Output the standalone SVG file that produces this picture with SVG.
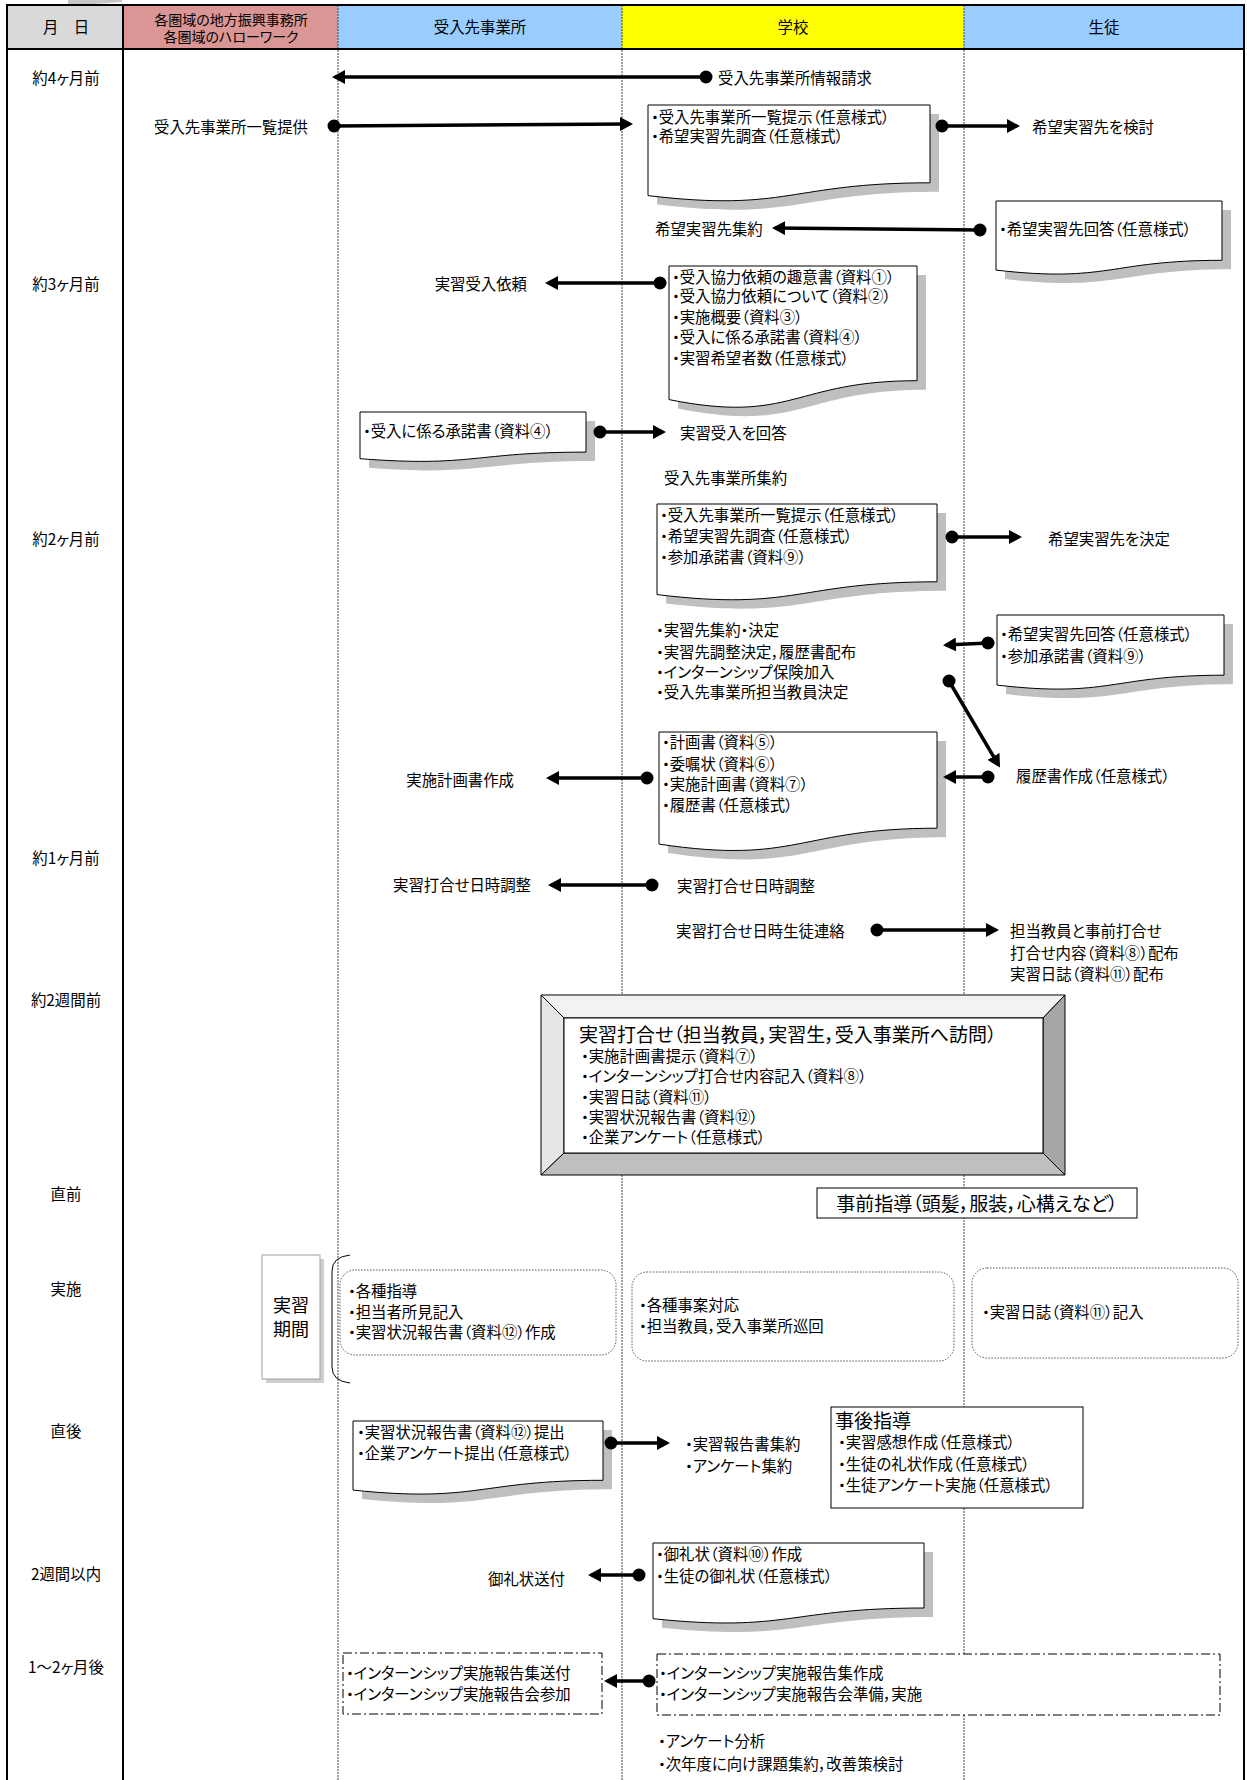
<svg xmlns="http://www.w3.org/2000/svg" xmlns:xlink="http://www.w3.org/1999/xlink" width="1247" height="1780" viewBox="0 0 1247 1780">
<style>
.t{font-family:"Noto Sans CJK JP","Noto Sans",sans-serif;font-size:15.4px;dominant-baseline:central;font-feature-settings:"palt";fill:#000}
.c{text-anchor:middle}
.e{text-anchor:end}
.big{font-size:19px}
.mid{font-size:18px}
.sm{font-size:14px}
.doc{fill:#fff;stroke:#000;stroke-width:1}
.sh{fill:#BFBFBF;stroke:none}
.sep{stroke:#444;stroke-width:1;stroke-dasharray:2 1;fill:none}
.frame{stroke:#000;stroke-width:2;fill:none}
.conn{stroke:#000;stroke-width:3.5;fill:none;marker-start:url(#dot);marker-end:url(#arr)}
.dots{fill:#fff;stroke:#555;stroke-width:1;stroke-dasharray:1.5 1.5}
.dd{fill:#fff;stroke:#000;stroke-width:1;stroke-dasharray:9 3 2 3}
.box{fill:#fff;stroke:#000;stroke-width:1}
</style>
<defs>
<marker id="arr" viewBox="0 0 13 14" refX="10" refY="7" markerWidth="13" markerHeight="14" markerUnits="userSpaceOnUse" orient="auto"><path d="M0,0 L13,7 L0,14 Z" fill="#000"/></marker>
<marker id="dot" viewBox="0 0 14 14" refX="7" refY="7" markerWidth="14" markerHeight="14" markerUnits="userSpaceOnUse"><circle cx="7" cy="7" r="6.5" fill="#000"/></marker>
<path id="p1" d="M648,105 H930 V182.8 C789,182.8 789,212.4 648,195.6 Z"/>
<path id="p2" d="M996,201 H1222 V260.3 C1109,260.3 1109,283 996,270.1 Z"/>
<path id="p3" d="M669,266 H917 V380.7 C793,380.7 793,424.4 669,399.6 Z"/>
<path id="p4" d="M360,412 H586 V452.1 C473,452.1 473,467.4 360,458.7 Z"/>
<path id="p5" d="M657,504 H937 V581.8 C797,581.8 797,611.4 657,594.6 Z"/>
<path id="p6" d="M997,615 H1224 V675.2 C1110.5,675.2 1110.5,698.1 997,685.1 Z"/>
<path id="p7" d="M659,732 H937 V828.2 C798,828.2 798,864.9 659,844.1 Z"/>
<path id="p8" d="M353,1421 H603 V1480.3 C478,1480.3 478,1503 353,1490.1 Z"/>
<path id="p9" d="M653,1543 H924 V1608 C788.5,1608 788.5,1632.7 653,1618.7 Z"/>
</defs>
<rect x="0" y="0" width="1247" height="1780" fill="#fff"/>

<g id="table">
<path d="M68,0 H122 V2 C104,3 86,5 68,6 Z" fill="#C8C8C8"/>
<rect x="7" y="5" width="116" height="44" fill="#D9D9D9"/>
<rect x="123" y="5" width="215" height="44" fill="#DA9694"/>
<rect x="338" y="5" width="284" height="44" fill="#99CCFF"/>
<rect x="622" y="5" width="342" height="44" fill="#FFFF00"/>
<rect x="964" y="5" width="280" height="44" fill="#99CCFF"/>
<line class="sep" x1="338" y1="5" x2="338" y2="1780"/>
<line class="sep" x1="622" y1="5" x2="622" y2="1780"/>
<line class="sep" x1="964" y1="5" x2="964" y2="1780"/>
<path class="frame" d="M7,1780 V5 H1244 V1780"/>
<line class="frame" x1="123" y1="5" x2="123" y2="1780"/>
<line class="frame" x1="7" y1="49" x2="1244" y2="49"/>
<text class="t c" x="66" y="26">月　日</text>
<text class="t c sm" x="231" y="19">各圏域の地方振興事務所</text>
<text class="t c sm" x="231" y="36">各圏域のハローワーク</text>
<text class="t c" x="480" y="26">受入先事業所</text>
<text class="t c" x="793" y="26">学校</text>
<text class="t c" x="1104" y="26">生徒</text>
<text class="t c" x="66" y="77">約4ヶ月前</text>
<text class="t c" x="66" y="283">約3ヶ月前</text>
<text class="t c" x="66" y="538">約2ヶ月前</text>
<text class="t c" x="66" y="857">約1ヶ月前</text>
<text class="t c" x="66" y="999">約2週間前</text>
<text class="t c" x="66" y="1193">直前</text>
<text class="t c" x="66" y="1288">実施</text>
<text class="t c" x="66" y="1430">直後</text>
<text class="t c" x="66" y="1573">2週間以内</text>
<text class="t c" x="66" y="1666">1～2ヶ月後</text>
</g>

<g id="n-info-request"><text class="t" x="718" y="77">受入先事業所情報請求</text></g>
<g id="n-list-provide"><text class="t c" x="231" y="126">受入先事業所一覧提供</text></g>
<g id="n-doc1">
<use href="#p1" class="sh" transform="translate(9,9)"/><use href="#p1" class="doc"/>
<text class="t" x="651" y="116">・受入先事業所一覧提示（任意様式）</text>
<text class="t" x="651" y="135">・希望実習先調査（任意様式）</text>
</g>
<g id="n-consider"><text class="t" x="1032" y="126">希望実習先を検討</text></g>
<g id="n-collect1"><text class="t" x="655" y="228">希望実習先集約</text></g>
<g id="n-doc2">
<use href="#p2" class="sh" transform="translate(9,9)"/><use href="#p2" class="doc"/>
<text class="t" x="999" y="228">・希望実習先回答（任意様式）</text>
</g>
<g id="n-doc3">
<use href="#p3" class="sh" transform="translate(9,9)"/><use href="#p3" class="doc"/>
<text class="t" x="672" y="276">・受入協力依頼の趣意書（資料①）</text>
<text class="t" x="672" y="295">・受入協力依頼について（資料②）</text>
<text class="t" x="672" y="316">・実施概要（資料③）</text>
<text class="t" x="672" y="336">・受入に係る承諾書（資料④）</text>
<text class="t" x="672" y="357">・実習希望者数（任意様式）</text>
</g>
<g id="n-request"><text class="t e" x="527" y="283">実習受入依頼</text></g>
<g id="n-doc4">
<use href="#p4" class="sh" transform="translate(9,9)"/><use href="#p4" class="doc"/>
<text class="t" x="363" y="430">・受入に係る承諾書（資料④）</text>
</g>
<g id="n-answer"><text class="t" x="680" y="432">実習受入を回答</text></g>
<g id="n-collect2"><text class="t" x="664" y="477">受入先事業所集約</text></g>
<g id="n-doc5">
<use href="#p5" class="sh" transform="translate(9,9)"/><use href="#p5" class="doc"/>
<text class="t" x="660" y="514">・受入先事業所一覧提示（任意様式）</text>
<text class="t" x="660" y="535">・希望実習先調査（任意様式）</text>
<text class="t" x="660" y="556">・参加承諾書（資料⑨）</text>
</g>
<g id="n-decide"><text class="t" x="1048" y="538">希望実習先を決定</text></g>
<g id="n-school-list">
<text class="t" x="656" y="629">・実習先集約・決定</text>
<text class="t" x="656" y="651">・実習先調整決定，履歴書配布</text>
<text class="t" x="656" y="671">・インターンシップ保険加入</text>
<text class="t" x="656" y="691">・受入先事業所担当教員決定</text>
</g>
<g id="n-doc6">
<use href="#p6" class="sh" transform="translate(9,9)"/><use href="#p6" class="doc"/>
<text class="t" x="1000" y="633">・希望実習先回答（任意様式）</text>
<text class="t" x="1000" y="655">・参加承諾書（資料⑨）</text>
</g>
<g id="n-doc7">
<use href="#p7" class="sh" transform="translate(9,9)"/><use href="#p7" class="doc"/>
<text class="t" x="662" y="741">・計画書（資料⑤）</text>
<text class="t" x="662" y="763">・委嘱状（資料⑥）</text>
<text class="t" x="662" y="783">・実施計画書（資料⑦）</text>
<text class="t" x="662" y="804">・履歴書（任意様式）</text>
</g>
<g id="n-plan"><text class="t e" x="514" y="779">実施計画書作成</text></g>
<g id="n-resume"><text class="t" x="1016" y="775">履歴書作成（任意様式）</text></g>
<g id="n-adjust-co"><text class="t e" x="531" y="884">実習打合せ日時調整</text></g>
<g id="n-adjust-sc"><text class="t" x="677" y="885">実習打合せ日時調整</text></g>
<g id="n-contact"><text class="t" x="676" y="930">実習打合せ日時生徒連絡</text></g>
<g id="n-student-prep">
<text class="t" x="1010" y="930">担当教員と事前打合せ</text>
<text class="t" x="1010" y="952">打合せ内容（資料⑧）配布</text>
<text class="t" x="1010" y="973">実習日誌（資料⑪）配布</text>
</g>
<g id="n-meeting">
<rect x="541" y="995" width="524" height="180" fill="#fff"/>
<polygon points="541,995 1065,995 1043,1018 564,1018" fill="#F2F2F2" stroke="#000" stroke-width="1"/>
<polygon points="541,995 564,1018 564,1153 541,1175" fill="#E6E6E6" stroke="#000" stroke-width="1"/>
<polygon points="1065,995 1065,1175 1043,1153 1043,1018" fill="#A6A6A6" stroke="#000" stroke-width="1"/>
<polygon points="541,1175 564,1153 1043,1153 1065,1175" fill="#BFBFBF" stroke="#000" stroke-width="1"/>
<rect x="564" y="1018" width="479" height="135" fill="#fff" stroke="#000" stroke-width="1"/>
<text class="t big" x="579" y="1033">実習打合せ（担当教員，実習生，受入事業所へ訪問）</text>
<text class="t" x="581" y="1055">・実施計画書提示（資料⑦）</text>
<text class="t" x="581" y="1075">・インターンシップ打合せ内容記入（資料⑧）</text>
<text class="t" x="581" y="1096">・実習日誌（資料⑪）</text>
<text class="t" x="581" y="1116">・実習状況報告書（資料⑫）</text>
<text class="t" x="581" y="1136">・企業アンケート（任意様式）</text>
</g>
<g id="n-guidance-pre">
<rect class="box" x="817" y="1188" width="320" height="30"/>
<text class="t big c" x="977" y="1202">事前指導（頭髪，服装，心構えなど）</text>
</g>
<g id="n-period">
<rect x="266" y="1259" width="58" height="124" fill="#BBB" opacity="0.7"/>
<rect x="262" y="1255" width="58" height="124" fill="#fff" stroke="#A0A0A0" stroke-width="1"/>
<text class="t mid c" x="291" y="1304">実習</text>
<text class="t mid c" x="291" y="1328">期間</text>
<path d="M350,1255 Q332,1257 332,1271 L332,1367 Q332,1381 350,1383" fill="none" stroke="#000" stroke-width="1"/>
</g>
<g id="n-impl-co">
<rect class="dots" x="340" y="1270" width="276" height="85" rx="15"/>
<text class="t" x="348" y="1290">・各種指導</text>
<text class="t" x="348" y="1311">・担当者所見記入</text>
<text class="t" x="348" y="1331">・実習状況報告書（資料⑫）作成</text>
</g>
<g id="n-impl-sc">
<rect class="dots" x="632" y="1272" width="322" height="89" rx="15"/>
<text class="t" x="639" y="1304">・各種事案対応</text>
<text class="t" x="639" y="1325">・担当教員，受入事業所巡回</text>
</g>
<g id="n-impl-st">
<rect class="dots" x="972" y="1268" width="266" height="90" rx="15"/>
<text class="t" x="982" y="1311">・実習日誌（資料⑪）記入</text>
</g>
<g id="n-doc8">
<use href="#p8" class="sh" transform="translate(9,9)"/><use href="#p8" class="doc"/>
<text class="t" x="357" y="1431">・実習状況報告書（資料⑫）提出</text>
<text class="t" x="357" y="1452">・企業アンケート提出（任意様式）</text>
</g>
<g id="n-report-collect">
<text class="t" x="685" y="1443">・実習報告書集約</text>
<text class="t" x="685" y="1465">・アンケート集約</text>
</g>
<g id="n-guidance-post">
<rect class="box" x="831" y="1407" width="252" height="101"/>
<text class="t big" x="835" y="1419">事後指導</text>
<text class="t" x="838" y="1441">・実習感想作成（任意様式）</text>
<text class="t" x="838" y="1463">・生徒の礼状作成（任意様式）</text>
<text class="t" x="838" y="1484">・生徒アンケート実施（任意様式）</text>
</g>
<g id="n-doc9">
<use href="#p9" class="sh" transform="translate(9,9)"/><use href="#p9" class="doc"/>
<text class="t" x="656" y="1553">・御礼状（資料⑩）作成</text>
<text class="t" x="656" y="1575">・生徒の御礼状（任意様式）</text>
</g>
<g id="n-thanks"><text class="t e" x="565" y="1578">御礼状送付</text></g>
<g id="n-final-co">
<rect class="dd" x="343" y="1653" width="259" height="61"/>
<text class="t" x="346" y="1672">・インターンシップ実施報告集送付</text>
<text class="t" x="346" y="1693">・インターンシップ実施報告会参加</text>
</g>
<g id="n-final-sc">
<rect class="dd" x="657" y="1654" width="563" height="61"/>
<text class="t" x="659" y="1672">・インターンシップ実施報告集作成</text>
<text class="t" x="659" y="1693">・インターンシップ実施報告会準備，実施</text>
</g>
<g id="n-analysis">
<text class="t" x="658" y="1740">・アンケート分析</text>
<text class="t" x="658" y="1763">・次年度に向け課題集約，改善策検討</text>
</g>

<g id="connectors">
<path class="conn" d="M706,77 H335"/>
<path class="conn" d="M334,126 L630,124"/>
<path class="conn" d="M942,126 H1017"/>
<path class="conn" d="M980,230 L775,228"/>
<path class="conn" d="M660,283 H548"/>
<path class="conn" d="M600,432 H663"/>
<path class="conn" d="M952,537 H1019"/>
<path class="conn" d="M988,643 L946,645"/>
<path class="conn" d="M949,681 L998.5,765"/>
<path class="conn" d="M647,778 H549"/>
<path class="conn" d="M988,777 H946"/>
<path class="conn" d="M652,885 H551"/>
<path class="conn" d="M877,930 H996"/>
<path class="conn" d="M611,1443 H667"/>
<path class="conn" d="M639,1575 H591"/>
<path class="conn" d="M649,1681 H607"/>
</g>
</svg>
